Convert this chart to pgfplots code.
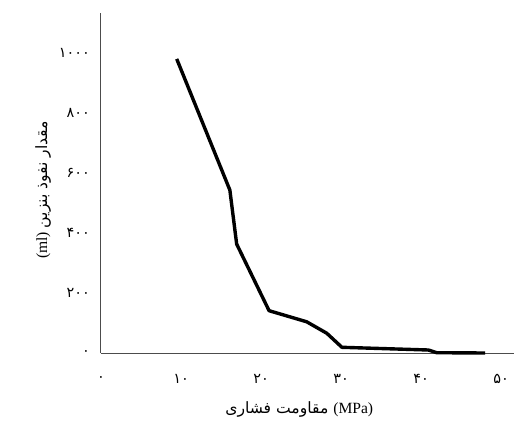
\documentclass[border=0pt]{standalone}
\usepackage{fontspec}
\setmainfont{Liberation Serif}
\newfontfamily\arabicfont[Script=Arabic]{DejaVu Sans}
\TeXXeTstate=1
\usepackage{pgfplots}
\pgfplotsset{compat=1.18}

\begin{document}
\begin{tikzpicture}
% picture frame: 514 x 424 px at 0.5pt per px
\useasboundingbox (-50.5pt,-35.5pt) rectangle (206.5pt,176.5pt);
\begin{axis}[
    at={(0,0)}, anchor=south west,
    width=206.5pt, height=170pt,
    scale only axis,
    xmin=0, xmax=51.6,
    ymin=0, ymax=1133,
    axis x line*=bottom,
    axis y line*=left,
    axis line style={black!70, line width=0.5pt},
    major tick length=0pt,
    xtick={0,10,20,30,40,50},
    xticklabels={۰,۱۰,۲۰,۳۰,۴۰,۵۰},
    ytick={0,200,400,600,800,1000},
    yticklabels={۰,۲۰۰,۴۰۰,۶۰۰,۸۰۰,۱۰۰۰},
    ticklabel style={font=\arabicfont\fontsize{7.2}{8.5}\selectfont},
    xticklabel style={anchor=center, yshift=-13pt},
    yticklabel style={anchor=east, xshift=-2pt},
    xlabel={\arabicfont\beginR مقاومت فشاری\endR\ \normalfont(MPa)},
    ylabel={\normalfont(ml)\ \arabicfont\beginR مقدار نفوذ بنزین\endR},
    label style={font=\fontsize{7.8}{9}\selectfont},
    xlabel style={at={(axis description cs:0.48,-0.165)}, anchor=center},
    ylabel style={at={(axis description cs:-0.14,0.48)}, anchor=center},
    clip=false,
]
\addplot[black, line width=1.7pt, line join=round] coordinates {
    (9.46,980) (16.1,543) (16.95,363) (21.0,141) (25.7,104)
    (28.2,66) (30.1,19) (40.9,10) (41.95,1) (48.0,0)
};
\end{axis}
\end{tikzpicture}
\end{document}
